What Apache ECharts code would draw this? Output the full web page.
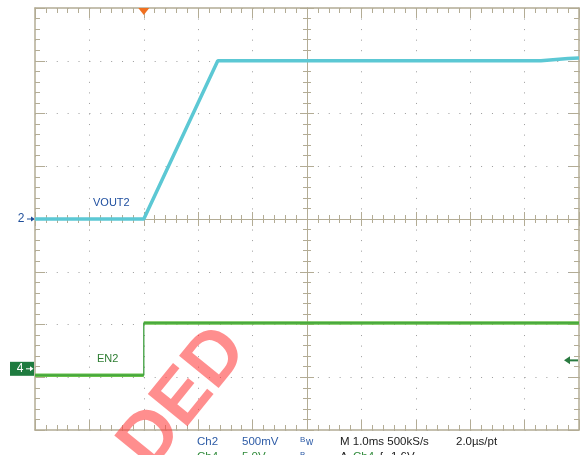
<!DOCTYPE html>
<html>
<head>
<meta charset="utf-8">
<script src="https://cdn.jsdelivr.net/npm/echarts@6/dist/echarts.min.js"></script>
<style>
  html, body { margin: 0; padding: 0; background: #ffffff; }
  #scope { width: 584px; height: 455px; }
</style>
</head>
<body>
<div id="scope"></div>
<script>
// Ch2 – VOUT2: time (ms from trigger) and level (V)
const VOUT2_T = [-2, 0, 1.36, 4.6, 7.3, 7.8, 8];
const VOUT2_V = [0, 0, 1.5, 1.5, 1.5, 1.522, 1.525];

// Ch4 – EN2: time (ms from trigger) and level (V)
const EN2_T = [-2, 0, 0, 8];
const EN2_V = [-0.6, -0.6, 4.35, 4.35];

// Vertical settings per channel: volts per division, ground offset in divisions
const CH2 = { scale: 0.5, offset: 0 };
const CH4 = { scale: 5.0, offset: -2.84 };
const TIME_PER_DIV = 1.0;   // ms / div
const TRIG_POS = -3;        // trigger position, divisions from screen centre
const CH4_TRIG_MARK = 0.8;  // Ch4 trigger arrow level (V)

// Readout rows under the graticule
const READOUT_1 = [
  { text: 'Ch2', x: 197, color: '#2d5ba6' },
  { text: '500mV', x: 242, color: '#2d5ba6' },
  { text: 'M 1.0ms 500kS/s', x: 340, color: '#1a1a1a' },
  { text: '2.0\u00b5s/pt', x: 456, color: '#1a1a1a' }
];
const READOUT_2 = [
  { text: 'Ch4', x: 197, color: '#2f8a3a' },
  { text: '5.0V', x: 242, color: '#2f8a3a' },
  { text: 'A', x: 340, color: '#1a1a1a' },
  { text: 'Ch4', x: 353, color: '#2f8a3a' },
  { text: '\u017f', x: 380, color: '#1a1a1a' },
  { text: '1.6V', x: 391, color: '#1a1a1a' }
];

const FRAME = '#b3ac95';
const DOT = '#9c9c9c';
const FONT = '"Liberation Sans", Arial, sans-serif';

const toX = t => t / TIME_PER_DIV + TRIG_POS;
const toY = (v, ch) => v / ch.scale + ch.offset;

const voutData = VOUT2_T.map((t, i) => [toX(t), toY(VOUT2_V[i], CH2)]);
const enPath = EN2_T.map((t, i) => [toX(t), toY(EN2_V[i], CH4)]);
// flat parts of EN2 carry the noise band; the fast edge is a thin stroke
const enFlat = [];
enPath.forEach((p, i) => {
  if (i > 0 && EN2_T[i] === EN2_T[i - 1]) enFlat.push(null);
  enFlat.push(p);
});

const xBase = { type: 'value', min: -5, max: 5, interval: 1, axisLabel: { show: false }, splitLine: { show: false } };
const yBase = { type: 'value', min: -4, max: 4, interval: 1, axisLabel: { show: false }, splitLine: { show: false } };
const border = { onZero: false, lineStyle: { color: FRAME, width: 1.5 } };
const centre = { onZero: true, onZeroAxisIndex: 0, lineStyle: { color: FRAME, width: 1 } };
const tick = (inside, len) => ({ show: true, inside: inside, length: len, lineStyle: { color: FRAME, width: 1 } });
const minor = len => ({ show: true, splitNumber: 5, length: len, lineStyle: { color: FRAME, width: 1 } });

const chart = echarts.init(document.getElementById('scope'), null, { renderer: 'canvas' });

chart.setOption({
  animation: false,
  backgroundColor: '#ffffff',
  grid: { left: 35, top: 8, width: 544, height: 422, outerBoundsMode: 'none' },
  xAxis: [
    Object.assign({}, xBase, {
      position: 'bottom', axisLine: border, axisTick: tick(true, 10), minorTick: minor(5),
      splitLine: { show: true, lineStyle: { color: DOT, width: 1, type: [1, 9.55] } }
    }),
    Object.assign({}, xBase, { position: 'top', axisLine: border, axisTick: tick(true, 10), minorTick: minor(5) }),
    Object.assign({}, xBase, { position: 'bottom', axisLine: centre, axisTick: tick(true, 7), minorTick: minor(4) }),
    Object.assign({}, xBase, { position: 'bottom', axisLine: centre, axisTick: tick(false, 7), minorTick: minor(4) })
  ],
  yAxis: [
    Object.assign({}, yBase, {
      position: 'left', axisLine: border, axisTick: tick(true, 10), minorTick: minor(5),
      splitLine: { show: true, lineStyle: { color: DOT, width: 1, type: [1, 9.88] } }
    }),
    Object.assign({}, yBase, { position: 'right', axisLine: border, axisTick: tick(true, 10), minorTick: minor(5) }),
    Object.assign({}, yBase, { position: 'left', axisLine: centre, axisTick: tick(true, 7), minorTick: minor(4) }),
    Object.assign({}, yBase, { position: 'left', axisLine: centre, axisTick: tick(false, 7), minorTick: minor(4) })
  ],
  series: [
    {
      name: 'VOUT2', type: 'line', data: voutData, showSymbol: false, z: 3,
      lineStyle: { color: '#5cc8d4', width: 3.5 },
      markPoint: {
        symbol: 'triangle', symbolSize: [11, 7], symbolRotate: 180, symbolOffset: [0, 3.5],
        label: { show: false }, itemStyle: { color: '#f07020' },
        data: [{ coord: [TRIG_POS, 4] }]
      }
    },
    {
      name: 'EN2', type: 'line', data: enFlat, showSymbol: false, connectNulls: false, z: 3,
      lineStyle: { color: '#68c048', width: 3.5 }
    },
    {
      name: 'EN2 edge', type: 'line', data: enPath, showSymbol: false, z: 3,
      lineStyle: { color: '#3b9e3b', width: 1.3 }
    }
  ]
});

// overlay: channel markers, trace names, readouts, watermark
const yPix = v => chart.convertToPixel({ yAxisIndex: 0 }, v);
const y2 = yPix(CH2.offset);
const y4 = yPix(CH4.offset);
const yTrig = yPix(toY(CH4_TRIG_MARK, CH4));

const g = [];
// Ch2 ground marker
g.push({ type: 'text', x: 21, y: y2, style: { text: '2', font: '12px ' + FONT, fill: '#1f4e9a', align: 'center', verticalAlign: 'middle' } });
g.push({ type: 'line', shape: { x1: 27, y1: y2, x2: 32, y2: y2 }, style: { stroke: '#1f4e9a', lineWidth: 1 } });
g.push({ type: 'polygon', shape: { points: [[31, y2 - 2.5], [35, y2], [31, y2 + 2.5]] }, style: { fill: '#1f4e9a' } });
// Ch4 ground marker
g.push({ type: 'rect', shape: { x: 10, y: y4 - 7, width: 24, height: 14 }, style: { fill: '#1e7b3f' } });
g.push({ type: 'text', x: 20, y: y4, style: { text: '4', font: '12px ' + FONT, fill: '#ffffff', align: 'center', verticalAlign: 'middle' } });
g.push({ type: 'line', shape: { x1: 26, y1: y4, x2: 31, y2: y4 }, style: { stroke: '#ffffff', lineWidth: 1 } });
g.push({ type: 'polygon', shape: { points: [[30, y4 - 2.5], [33.5, y4], [30, y4 + 2.5]] }, style: { fill: '#ffffff' } });
// Ch4 trigger level arrow on the right
g.push({ type: 'line', shape: { x1: 569, y1: yTrig, x2: 578, y2: yTrig }, style: { stroke: '#2a7a40', lineWidth: 2 } });
g.push({ type: 'polygon', shape: { points: [[564, yTrig], [570, yTrig - 4], [570, yTrig + 4]] }, style: { fill: '#2a7a40' } });
// trace names
g.push({ type: 'text', x: 93, y: 203, style: { text: 'VOUT2', font: '11px ' + FONT, fill: '#2050a0', verticalAlign: 'middle' } });
g.push({ type: 'text', x: 97, y: 359, style: { text: 'EN2', font: '11px ' + FONT, fill: '#2e7d32', verticalAlign: 'middle' } });
// readouts
READOUT_1.forEach(r => g.push({ type: 'text', x: r.x, y: 441.5, style: { text: r.text, font: '11.5px ' + FONT, fill: r.color, verticalAlign: 'middle' } }));
READOUT_2.forEach(r => g.push({ type: 'text', x: r.x, y: 457, style: { text: r.text, font: '11.5px ' + FONT, fill: r.color, verticalAlign: 'middle' } }));
[441.5, 457].forEach(yy => {
  g.push({ type: 'text', x: 300, y: yy - 2, style: { text: 'B', font: '8px ' + FONT, fill: '#2d5ba6', verticalAlign: 'middle' } });
  g.push({ type: 'text', x: 306, y: yy + 1, style: { text: 'w', font: '10px ' + FONT, fill: '#2d5ba6', verticalAlign: 'middle' } });
});
// watermark
g.push({
  type: 'text', x: 184, y: 398, rotation: 0.89, z: 100,
  style: { text: 'DED', font: 'bold 74px ' + FONT, fill: 'rgba(255,60,60,0.58)', align: 'center', verticalAlign: 'middle' }
});

chart.setOption({ graphic: { elements: g } });
</script>
</body>
</html>
